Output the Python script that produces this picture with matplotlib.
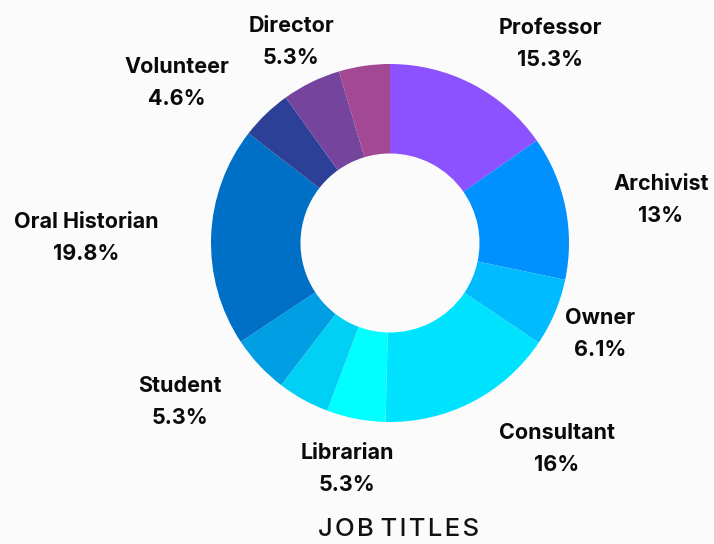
import matplotlib.pyplot as plt

categories = ["Professor", "Archivist", "Owner", "Consultant", "Librarian", "",
              "Student", "Oral Historian", "Volunteer", "Director", ""]
values = [15.3, 13, 6.1, 16, 5.3, 4.7, 5.3, 19.8, 4.6, 5.3, 4.6]
value_labels = ["15.3%", "13%", "6.1%", "16%", "5.3%", "",
                "5.3%", "19.8%", "4.6%", "5.3%", ""]
colors = ["#8c52ff", "#0091ff", "#00bcff", "#00e3ff", "#00ffff", "#00d1f4",
          "#009fe3", "#0070c6", "#2c4098", "#75449c", "#a34993"]

# label centres, in pie radii from the centre
label_x = [0.894, 1.514, 1.173, 0.933, -0.240, 0, -1.173, -1.698, -1.189, -0.553, 0]
label_y = [1.123, 0.251, -0.497, -1.139, -1.251, 0, -0.877, 0.039, 0.905, 1.134, 0]

W, H = 714, 544
cx, cy, R = 390, 243, 179

fig = plt.figure(figsize=(W / 100, H / 100), dpi=100, facecolor="#fbfbfb")
ax = fig.add_axes([0, 0, 1, 1])
ax.set_facecolor("#fbfbfb")

ax.pie(values, colors=colors, startangle=90, counterclock=False, radius=1,
       wedgeprops=dict(width=0.5, edgecolor="none"))

for name, pct, x, y in zip(categories, value_labels, label_x, label_y):
    if not name:
        continue
    ax.text(x, y - 0.012, f"{name}\n{pct}", ha="center", va="center",
            fontsize=15.5, fontweight="bold", family=["Inter", "DejaVu Sans"],
            linespacing=1.75, color="#0a0a0a")

ax.text(399 / W, 1 - 530 / H, "J\u200aO\u200aB\u2009\u200aT\u200aI\u200aT\u200aL\u200aE\u200aS",
        transform=fig.transFigure, ha="center", va="center", fontsize=18.5,
        family=["Inter", "DejaVu Sans"], fontweight="medium", color="#111111")

ax.set_xlim(-cx / R, (W - cx) / R)
ax.set_ylim(-(H - cy) / R, cy / R)
ax.set_aspect("equal")
ax.axis("off")

fig.savefig("out.png", dpi=100, facecolor=fig.get_facecolor())
